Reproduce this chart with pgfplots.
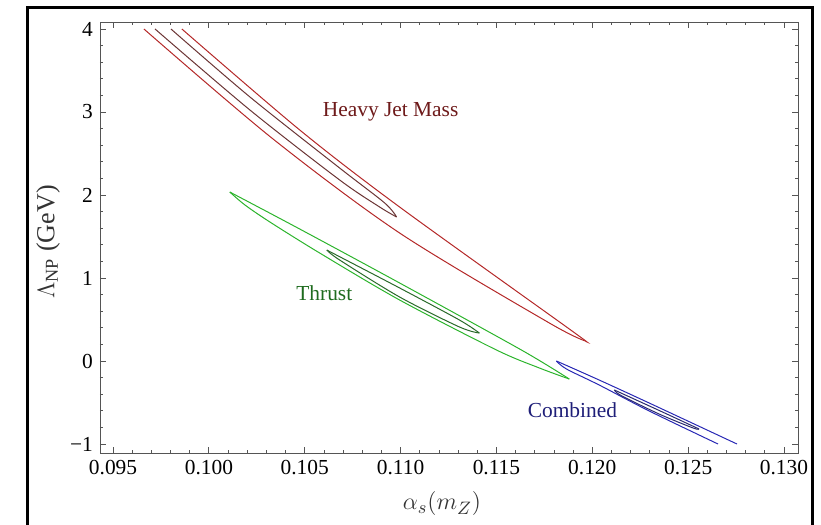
\documentclass[border=0pt]{standalone}
\usepackage{pgfplots}
\pgfplotsset{compat=1.18}
\usepackage{fontspec}
\setmainfont{Liberation Serif}

\definecolor{hjmout}{HTML}{B42828}
\definecolor{hjmin}{HTML}{6B3535}
\definecolor{hjmtxt}{HTML}{6E1A1A}
\definecolor{throut}{HTML}{2CB42C}
\definecolor{thrin}{HTML}{2A6A2A}
\definecolor{thrtxt}{HTML}{1E6B1E}
\definecolor{comout}{HTML}{2828B4}
\definecolor{comin}{HTML}{2A2A6E}
\definecolor{comtxt}{HTML}{1E1E78}
\definecolor{axgray}{HTML}{555555}

\begin{document}
\begin{tikzpicture}
\path[use as bounding box] (0,0) rectangle (410.5pt,262.5pt);
% outer frame (cut at the bottom)
\draw[line width=1.5pt] (13.5pt,-5pt) -- (13.5pt,258.5pt) -- (406pt,258.5pt) -- (406pt,-5pt);

\begin{axis}[at={(50pt,36pt)}, anchor=south west, scale only axis,
  width=349pt, height=215.5pt,
  xmin=0.09432, xmax=0.13073, ymin=-1.108, ymax=4.084,
  xtick={0.095,0.100,0.105,0.110,0.115,0.120,0.125,0.130},
  xticklabels={0.095,0.100,0.105,0.110,0.115,0.120,0.125,0.130},
  ytick={-1,0,1,2,3,4}, yticklabels={−1,0,1,2,3,4},
  minor x tick num=4, minor y tick num=4,
  tick align=inside, xtick pos=both, ytick pos=both,
  major tick length=3pt, minor tick length=1.7pt,
  axis line style={axgray}, every tick/.style={axgray},
  tick label style={font=\fontsize{10.7}{12}\selectfont},
  /pgf/number format/assume math mode=true,
  every axis plot/.append style={line width=0.5pt}]

% Heavy Jet Mass, outer contour
\addplot[hjmout, smooth] coordinates {(0.09661,4) (0.10328,2.687) (0.10995,1.542) (0.11776,0.458) (0.11964,0.241)};
\addplot[hjmout, smooth] coordinates {(0.09859,4) (0.10474,2.783) (0.10995,1.855) (0.11880,0.386) (0.11964,0.241)};
% Heavy Jet Mass, inner contour
\addplot[hjmin, smooth] coordinates {(0.09719,4) (0.10214,3.024) (0.10682,2.181) (0.10891,1.855) (0.10979,1.735)};
\addplot[hjmin, smooth] coordinates {(0.09802,4) (0.10214,3.181) (0.10682,2.325) (0.10917,1.904) (0.10979,1.735)};

% Thrust, outer contour
\addplot[throut, smooth] coordinates {(0.10109,2.036) (0.10474,1.590) (0.10995,0.940) (0.11630,0.133) (0.11880,-0.217)};
\addplot[throut, smooth] coordinates {(0.10109,2.036) (0.10188,1.880) (0.10318,1.675) (0.10578,1.301) (0.10995,0.735) (0.11500,0.133) (0.11724,-0.084) (0.11880,-0.217)};
% Thrust, inner contour
\addplot[thrin, smooth] coordinates {(0.10615,1.337) (0.10995,0.880) (0.11307,0.494) (0.11411,0.337)};
\addplot[thrin, smooth] coordinates {(0.10615,1.337) (0.10682,1.217) (0.10995,0.771) (0.11307,0.410) (0.11411,0.337)};

% Combined, outer contour
\addplot[comout, smooth] coordinates {(0.11813,0.0) (0.12036,-0.229) (0.12297,-0.506) (0.12755,-1)};
\addplot[comout, smooth] coordinates {(0.11813,0.0) (0.11865,-0.096) (0.12036,-0.289) (0.12297,-0.602) (0.12656,-1)};
% Combined, inner contour
\addplot[comin, smooth] coordinates {(0.12115,-0.349) (0.12349,-0.596) (0.12557,-0.819)};
\addplot[comin, smooth] coordinates {(0.12115,-0.349) (0.12151,-0.416) (0.12349,-0.639) (0.12526,-0.807) (0.12557,-0.819)};

\node[hjmtxt, anchor=base, font=\fontsize{10.7}{12}\selectfont] at (axis cs:0.10948,2.940) {Heavy Jet Mass};
\node[thrtxt, anchor=base, font=\fontsize{10.7}{12}\selectfont] at (axis cs:0.10602,0.735) {Thrust};
\node[comtxt, anchor=base, font=\fontsize{10.7}{12}\selectfont] at (axis cs:0.11896,-0.675) {Combined};
\end{axis}

\node[font=\fontsize{13}{15}\selectfont, text=black!80] at (221pt,10.5pt) {$\alpha_s(m_Z)$};
\node[font=\fontsize{13}{15}\selectfont, text=black!80, rotate=90] at (24pt,141.5pt) {$\Lambda_{\mathrm{NP}}$ (GeV)};
\end{tikzpicture}
\end{document}
